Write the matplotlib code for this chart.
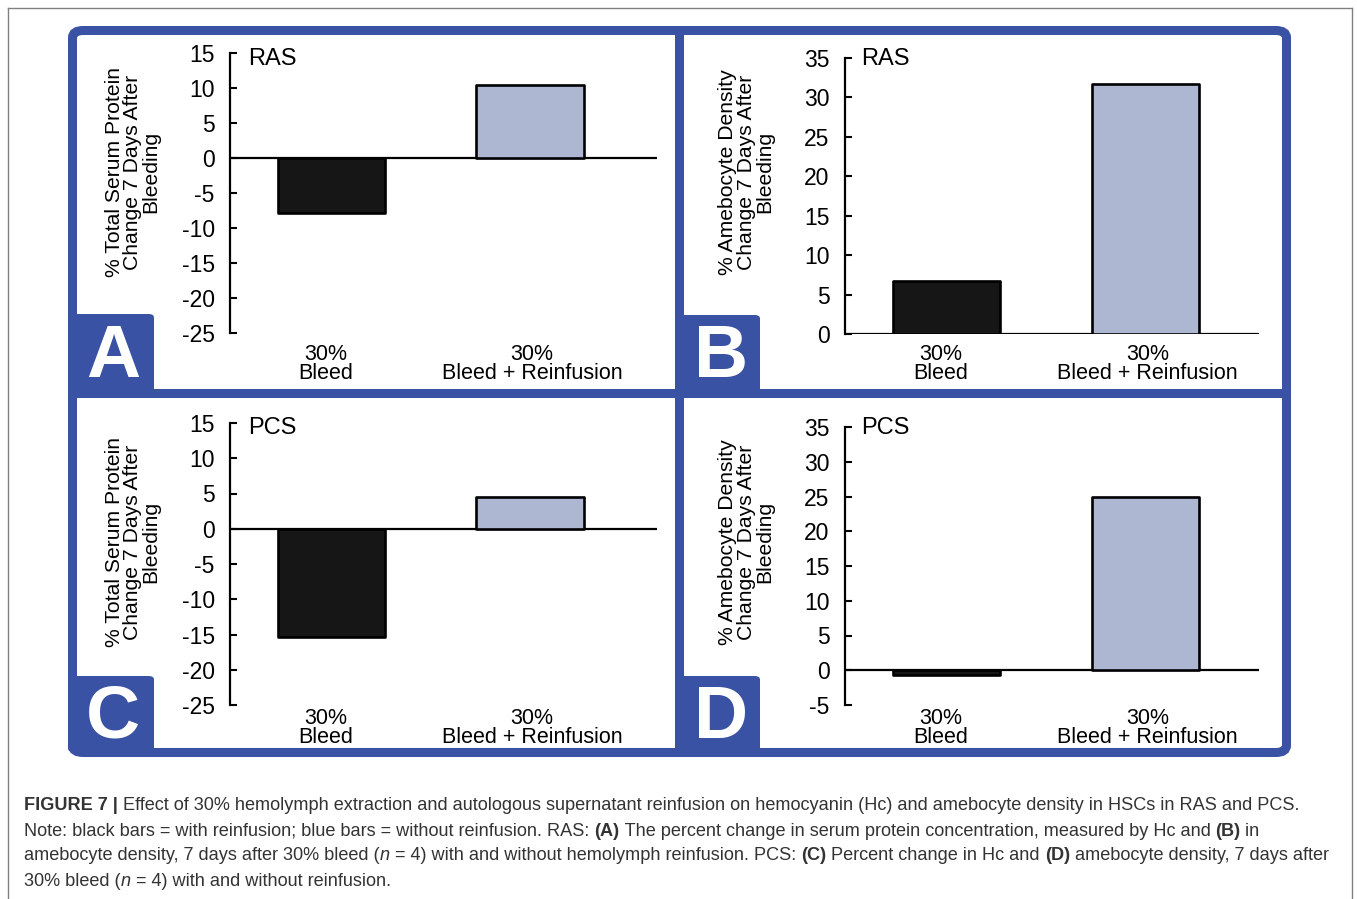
import matplotlib
matplotlib.use("Agg")
import matplotlib.pyplot as plt
from matplotlib.patches import FancyBboxPatch
from matplotlib.lines import Line2D
from matplotlib.transforms import blended_transform_factory, ScaledTranslation

# ---------------- data ----------------
categories = ["30%\nBleed", "30%\nBleed + Reinfusion"]
ras_protein = [-7.8, 10.4]
ras_amebocyte = [6.7, 31.7]
pcs_protein = [-15.4, 4.5]
pcs_amebocyte = [-0.7, 25.0]
protein_ticks = [15, 10, 5, 0, -5, -10, -15, -20, -25]
amebo_ticks_ras = [35, 30, 25, 20, 15, 10, 5, 0]
amebo_ticks_pcs = [35, 30, 25, 20, 15, 10, 5, 0, -5]
protein_label = "% Total Serum Protein\nChange 7 Days After\nBleeding"
amebo_label = "% Amebocyte Density\nChange 7 Days After\nBleeding"
panel_letters = ["A", "B", "C", "D"]
group_names = ["RAS", "RAS", "PCS", "PCS"]

caption_lines = [
    [("FIGURE 7 |", "bold"), (" Effect of 30% hemolymph extraction and autologous supernatant reinfusion on hemocyanin (Hc) and amebocyte density in HSCs in RAS and PCS.", "normal")],
    [("Note: black bars = with reinfusion; blue bars = without reinfusion. RAS: ", "normal"), ("(A)", "bold"),
     (" The percent change in serum protein concentration, measured by Hc and ", "normal"), ("(B)", "bold"), (" in", "normal")],
    [("amebocyte density, 7 days after 30% bleed (", "normal"), ("n", "italic"),
     (" = 4) with and without hemolymph reinfusion. PCS: ", "normal"), ("(C)", "bold"),
     (" Percent change in Hc and ", "normal"), ("(D)", "bold"), (" amebocyte density, 7 days after", "normal")],
    [("30% bleed (", "normal"), ("n", "italic"), (" = 4) with and without reinfusion.", "normal")],
]

# ---------------- style ----------------
W, H = 1357, 899
BLUE = "#3a52a3"
BAR_COLORS = ["#161616", "#adb7d2"]
FONT = "Liberation Sans"
plt.rcParams["font.family"] = [FONT, "DejaVu Sans"]

fig = plt.figure(figsize=(W / 100, H / 100), dpi=100)
fig.patch.set_facecolor("white")


def fx(x):
    return x / W


def fy(y):
    return 1 - y / H


# outer gray frame (open at bottom)
for (x0, y0, x1, y1) in [(8, 8, 1352, 8), (8, 8, 8, 899), (1352, 8, 1352, 899)]:
    fig.add_artist(Line2D([fx(x0), fx(x1)], [fy(y0), fy(y1)], transform=fig.transFigure,
                          color="#808080", lw=1.0))

# blue frame
frame = FancyBboxPatch((fx(72.5), fy(752.5)), fx(1286.5) - fx(72.5), fy(30.5) - fy(752.5),
                       boxstyle="round,pad=0,rounding_size=0.008", transform=fig.transFigure,
                       facecolor="none", edgecolor=BLUE, lw=6.5, zorder=5)
fig.add_artist(frame)
fig.add_artist(Line2D([fx(679), fx(679)], [fy(34), fy(749)], transform=fig.transFigure, color=BLUE,
                      lw=6.5, zorder=5, solid_capstyle="butt"))
fig.add_artist(Line2D([fx(76), fx(1283)], [fy(393.5), fy(393.5)], transform=fig.transFigure, color=BLUE,
                      lw=6.5, zorder=5, solid_capstyle="butt"))

# letter boxes
boxes = [(68, 314, 154, 393), (679, 315, 760, 393), (68, 676, 154, 752), (679, 676, 760, 752)]
for (x0, y0, x1, y1), letter in zip(boxes, panel_letters):
    b = FancyBboxPatch((fx(x0), fy(y1)), fx(x1) - fx(x0), fy(y0) - fy(y1),
                       boxstyle="round,pad=0,rounding_size=0.004", transform=fig.transFigure,
                       facecolor=BLUE, edgecolor="none", zorder=6)
    fig.add_artist(b)
    fig.text(fx((x0 + x1) / 2 + 2), fy((y0 + y1) / 2 + 4), letter, color="white", fontsize=54,
             fontweight="bold", ha="center", va="center", zorder=7)

# axes specs
specs = [
    (230, 657, 53, 333, (-25, 15), (-0.51, 1.64), ras_protein, protein_ticks, protein_label, (133, 172), 364, (248, 59)),
    (845, 1259, 58, 334, (0, 35), (-0.51, 1.57), ras_amebocyte, amebo_ticks_ras, amebo_label, (746, 172), 364, (861, 59)),
    (230, 657, 423, 705, (-25, 15), (-0.51, 1.64), pcs_protein, protein_ticks, protein_label, (133, 542), 728, (248, 428)),
    (845, 1259, 427, 705, (-5, 35), (-0.51, 1.57), pcs_amebocyte, amebo_ticks_pcs, amebo_label, (746, 542), 728, (861, 428)),
]
label_shift_px = [-6, 2]

for (x0, x1, yt, yb, ylim, xlim, vals, ticks, ylab, ylxy, cat_y, nxy), name in zip(specs, group_names):
    ax = fig.add_axes([fx(x0), fy(yb), fx(x1) - fx(x0), fy(yt) - fy(yb)])
    ax.set_facecolor("none")
    xs = list(range(len(categories)))
    bars = ax.bar(xs, vals, width=0.54, color=BAR_COLORS, edgecolor="black", linewidth=1.9, zorder=3)
    for p in bars.patches:
        p.set_joinstyle("round")
    ax.axhline(0, color="black", lw=1.6, zorder=2)
    ax.set_xlim(*xlim)
    ax.set_ylim(*ylim)
    ax.set_yticks(ticks)
    ax.set_yticklabels([str(t) for t in ticks])
    ax.set_xticks([])
    for s in ["top", "right", "bottom"]:
        ax.spines[s].set_visible(False)
    ax.spines["left"].set_linewidth(1.6)
    ax.tick_params(axis="y", direction="in", length=5, width=1.5, pad=11, labelsize=16.5)
    tr = blended_transform_factory(ax.transData, fig.transFigure)
    for xi, c, sh in zip(xs, categories, label_shift_px):
        t = tr + ScaledTranslation(sh / 100, 0, fig.dpi_scale_trans)
        ax.text(xi, fy(cat_y), c, transform=t, ha="center", va="center", fontsize=15.5,
                linespacing=0.85, clip_on=False)
    fig.text(fx(nxy[0]), fy(nxy[1]), name, fontsize=17, ha="left", va="center")
    fig.text(fx(ylxy[0]), fy(ylxy[1]), ylab, rotation=90, fontsize=15.2, ha="center", va="center",
             multialignment="center", linespacing=0.95)

# caption with mixed styles
fig.canvas.draw()
renderer = fig.canvas.get_renderer()
CAP_SIZE = 13.05
CAP_COLOR = "#333333"
line_y = [806, 831, 856, 881]


def style_kw(style):
    if style == "bold":
        return {"fontweight": "bold"}
    if style == "italic":
        return {"fontstyle": "italic"}
    return {}


def seg_width(s, style):
    kw = style_kw(style)
    t = fig.text(0, 0, "|" + s + "|", fontsize=CAP_SIZE, **kw)
    t2 = fig.text(0, 0, "||", fontsize=CAP_SIZE, **kw)
    w = t.get_window_extent(renderer).width - t2.get_window_extent(renderer).width
    t.remove()
    t2.remove()
    return w


for segs, yy in zip(caption_lines, line_y):
    xpos = 24.0
    for s, style in segs:
        fig.text(fx(xpos), fy(yy), s, fontsize=CAP_SIZE, color=CAP_COLOR, ha="left", va="center",
                 **style_kw(style))
        xpos += seg_width(s, style)

fig.savefig("out.png", dpi=100)
